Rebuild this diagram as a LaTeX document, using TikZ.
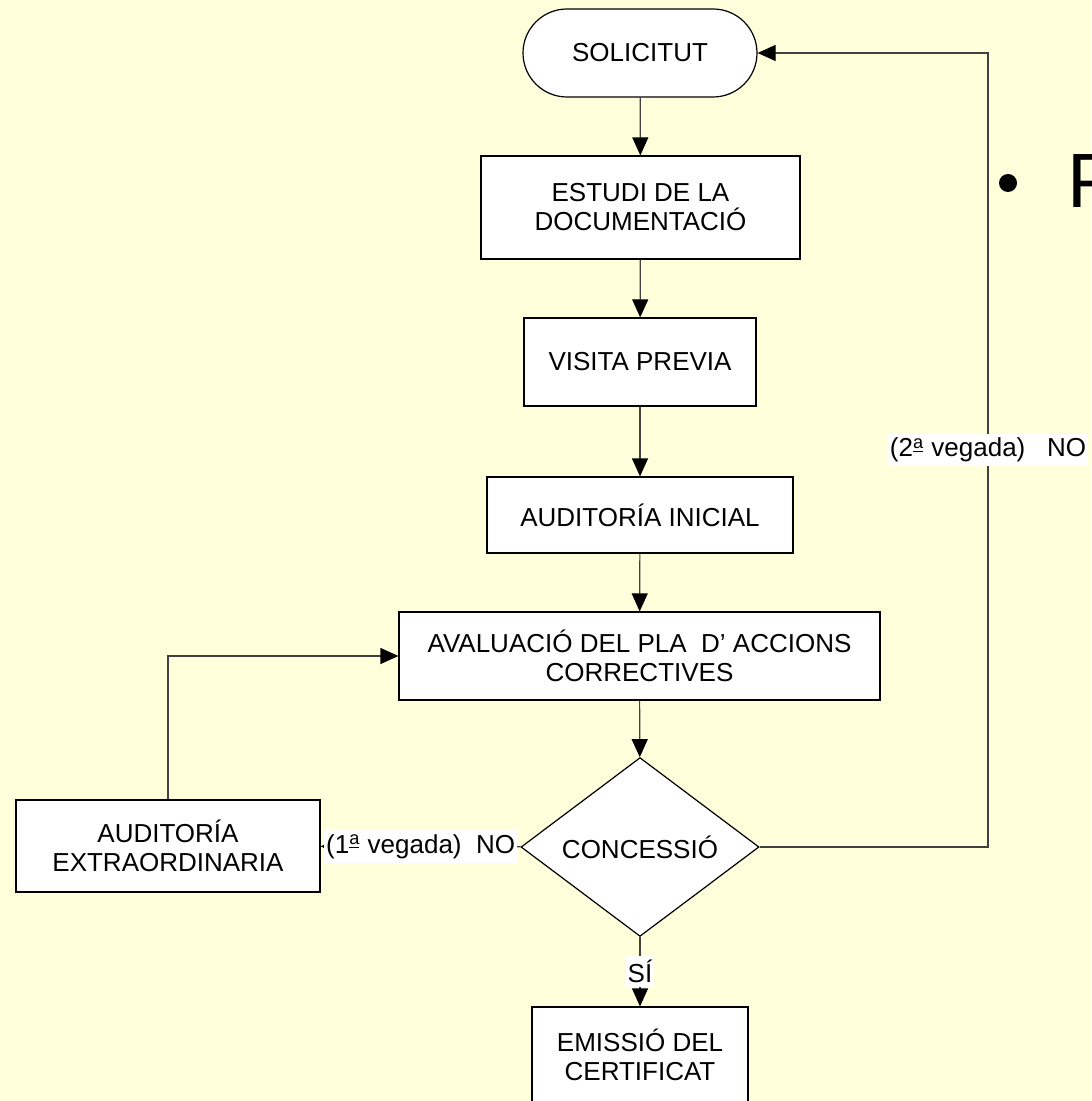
\documentclass[tikz,border=0pt]{standalone}
\usepackage{fontspec}
\setmainfont{Liberation Sans}
\usetikzlibrary{shapes.geometric, arrows.meta}
\definecolor{bgyellow}{RGB}{255,255,220}
\definecolor{linegray}{RGB}{64,64,64}
\newcommand{\ordA}{\textsuperscript{\underline{a}}}

\begin{document}
\begin{tikzpicture}[x=0.5pt,y=-0.5pt,
        every node/.style={font=\fontsize{13}{14.5}\selectfont,align=center,inner sep=0pt},
        box/.style={draw=black,fill=white,line width=0.6pt},
        arr/.style={draw=linegray,line width=0.6pt,-{Triangle[length=9pt,width=8pt,fill=black,color=black]}},
        lbl/.style={fill=white,inner xsep=1pt,inner ysep=2pt}
    ]
        % Page
        \useasboundingbox (0,0) rectangle (1091,1101);
        \clip (0,0) rectangle (1091,1101);
        \fill[bgyellow] (0,0) rectangle (1091,1101);

        % Main column
        \node[box,minimum width=117pt,minimum height=44pt,rounded corners=22pt] (sol) at (640,53) {SOLICITUT};
        \node[box,minimum width=159.5pt,minimum height=51.5pt] (est) at (640.5,207.5) {ESTUDI DE LA\\DOCUMENTACIÓ};
        \node[box,minimum width=116pt,minimum height=44pt] (vis) at (640,362) {VISITA PREVIA};
        \node[box,minimum width=153pt,minimum height=38pt] (ini) at (640,515) {AUDITORÍA INICIAL};
        \node[box,minimum width=240.5pt,minimum height=44pt] (ava) at (639.5,656) {AVALUACIÓ DEL PLA\ \ D’ ACCIONS\\CORRECTIVES};
        \node[box,diamond,minimum width=119pt,minimum height=89pt] (con) at (640,847) {CONCESSIÓ};
        \node[box,minimum width=108pt,minimum height=48pt] (emi) at (640,1055) {EMISSIÓ DEL\\CERTIFICAT};

        % Side box
        \node[box,minimum width=152pt,minimum height=46pt] (ext) at (168,846) {AUDITORÍA\\EXTRAORDINARIA};

        % Connectors
        \draw[arr] (sol) -- (est);
        \draw[arr] (est) -- (vis);
        \draw[arr] (vis) -- (ini);
        \draw[arr] (ini) -- (ava);
        \draw[arr] (ava) -- (con);
        \draw[arr] (con) -- node[lbl]{SÍ} (emi);
        \draw[arr] (con) -- node[lbl]{(1\ordA\ vegada)\ \ NO} (ext);
        \draw[arr] (ext) |- (ava);
        \coordinate (rt) at (988,847);
        \draw[arr] (con.east) -- (rt) |- node[lbl,pos=0.25]{(2\ordA\ vegada)\ \ \ NO} (sol.east);

        % Slide text behind
        \node[circle,fill=black,minimum size=9pt] (dot) at (1008,183) {};
        \node[font=\fontsize{38.5}{40}\selectfont,anchor=base west] (ptxt) at (1067,208) {P};
\end{tikzpicture}
\end{document}
